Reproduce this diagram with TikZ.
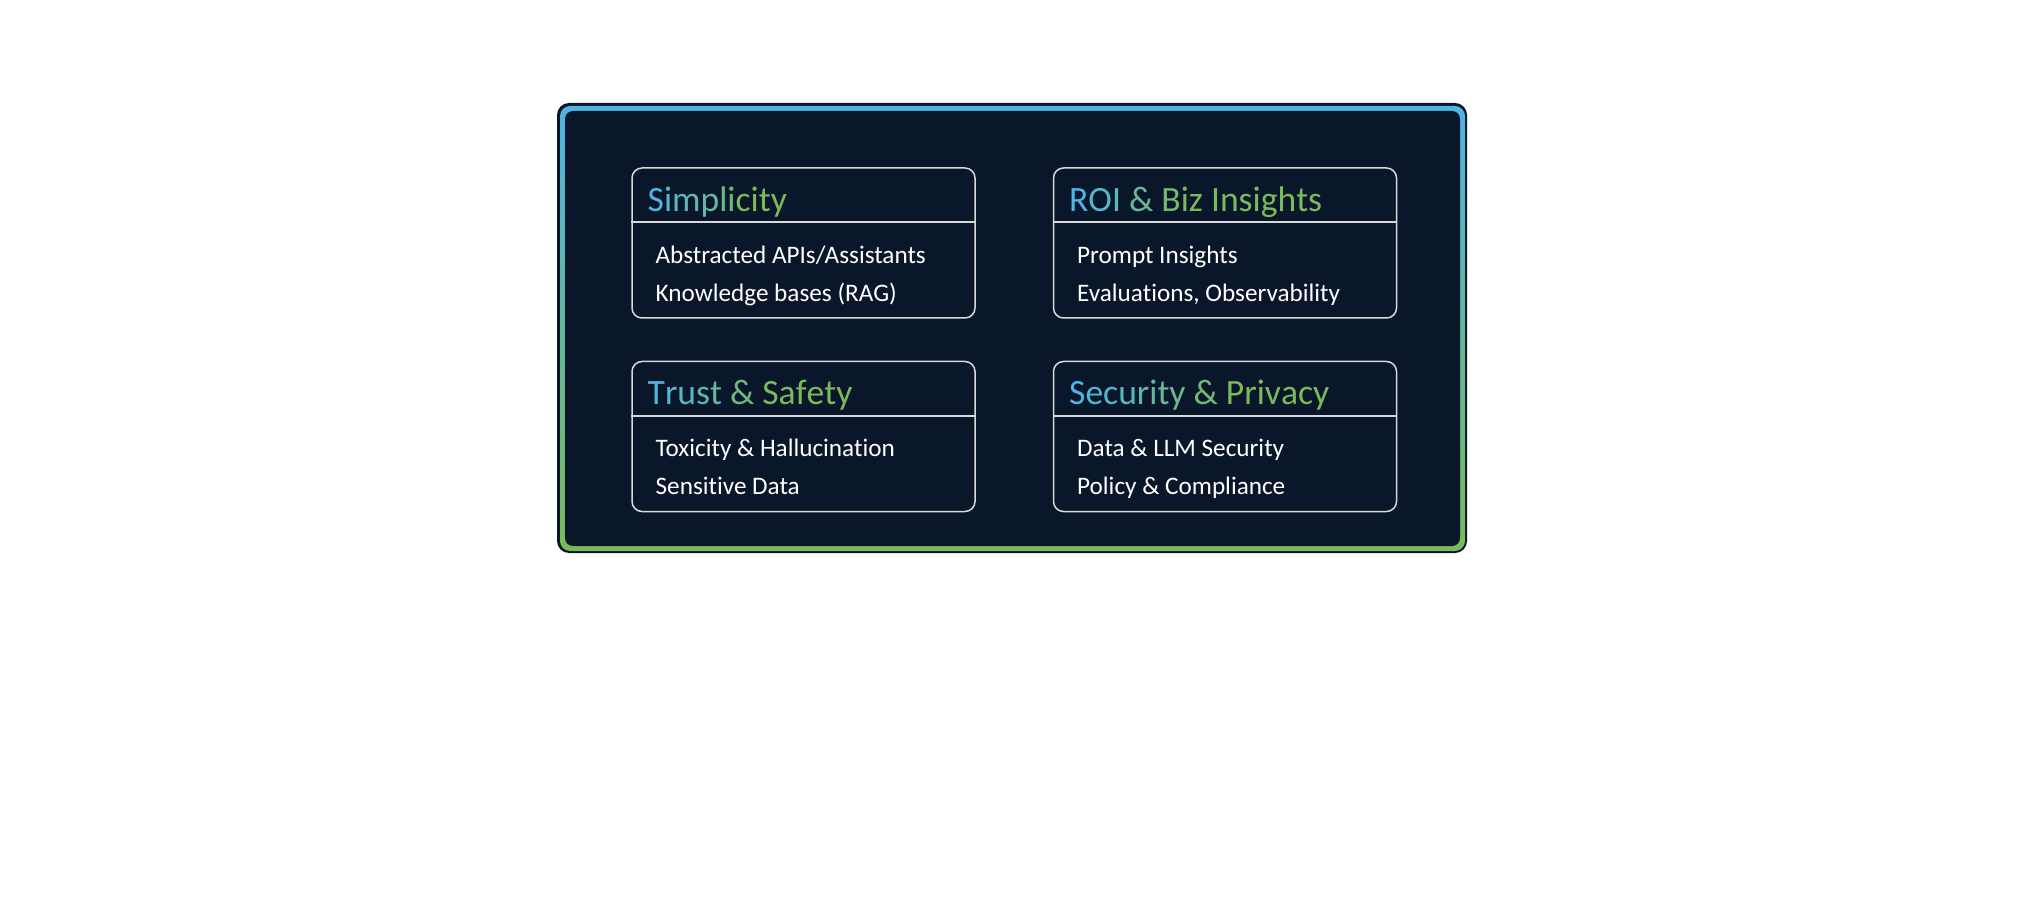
\documentclass[tikz,border=0pt]{standalone}
\usepackage{fontspec}
\setmainfont{Carlito}[Ligatures=NoCommon]
\usepackage{xcolor}
\usetikzlibrary{positioning}

\definecolor{navy}{HTML}{0A1629}
\definecolor{tblue}{RGB}{80,180,226}
\definecolor{tgreen}{RGB}{122,186,90}
\definecolor{edge}{HTML}{D9D9D9}

% title letters fade from blue to green
\newcommand{\gradtitle}[2]{%
  \foreach \lt [count=\k] in {#2}{%
    \pgfmathtruncatemacro{\pct}{min(100,(\k-1)*#1)}%
    \textcolor{tgreen!\pct!tblue}{\lt}}}

\tikzset{
  card/.style={draw=edge, line width=0.75pt, rounded corners=5pt,
    minimum width=171.5pt, minimum height=75pt},
  ttl/.style={anchor=base west, inner sep=0pt, font=\fontsize{17.8}{21}\selectfont},
  item/.style={anchor=base west, inner sep=0pt, text=white, font=\fontsize{12.6}{15}\selectfont},
}

\begin{document}
\begin{tikzpicture}[x=0.5pt,y=-0.5pt]
    \fill[white] (0,0) rectangle (2044,898);
    \useasboundingbox (0,0) rectangle (2044,898);

    % Panel with gradient rim
    \fill[navy, rounded corners=6pt] (557,103) rectangle (1467,553);
    \fill[top color=tblue, bottom color=tgreen, rounded corners=5pt] (560,106) rectangle (1465,551);
    \fill[navy, rounded corners=4pt] (565,111) rectangle (1460,546);

    % Cards
    \node[card] (simp) at (803.5,243) {};
    \node[card] (roi) at (1225,243) {};
    \node[card] (trust) at (803.5,436.5) {};
    \node[card] (secu) at (1225,436.5) {};

    \foreach \n in {simp,roi,trust,secu}
        \draw[edge, line width=0.75pt] ([yshift=-27.5pt]\n.north west) -- ([yshift=-27.5pt]\n.north east);

    % Titles
    \node[ttl] (simp-t) at ([shift={(16,44)}]simp.north west) {\gradtitle{16}{S,i,m,p,l,i,c,i,t,y}};
    \node[ttl] (roi-t) at ([shift={(16,44)}]roi.north west) {\gradtitle{14}{R,O,I,\ ,\&,\ ,B,i,z,\ ,I,n,s,i,g,h,t,s}};
    \node[ttl] (trust-t) at ([shift={(16,44)}]trust.north west) {\gradtitle{12}{T,r,u,s,t,\ ,\&,\ ,S,a,f,e,t,y}};
    \node[ttl] (secu-t) at ([shift={(16,44)}]secu.north west) {\gradtitle{9}{S,e,c,u,r,i,t,y,\ ,\&,\ ,P,r,i,v,a,c,y}};

    % Items
    \node[item] (simp-a) at ([shift={(24,96)}]simp.north west) {Abstracted APIs/Assistants};
    \node[item] (simp-b) at ([shift={(24,134)}]simp.north west) {Knowledge bases (RAG)};
    \node[item] (roi-a) at ([shift={(24,96)}]roi.north west) {Prompt Insights};
    \node[item] (roi-b) at ([shift={(24,134)}]roi.north west) {Evaluations, Observability};
    \node[item] (trust-a) at ([shift={(24,96)}]trust.north west) {Toxicity \& Hallucination};
    \node[item] (trust-b) at ([shift={(24,134)}]trust.north west) {Sensitive Data};
    \node[item] (secu-a) at ([shift={(24,96)}]secu.north west) {Data \& LLM Security};
    \node[item] (secu-b) at ([shift={(24,134)}]secu.north west) {Policy \& Compliance};
\end{tikzpicture}
\end{document}
